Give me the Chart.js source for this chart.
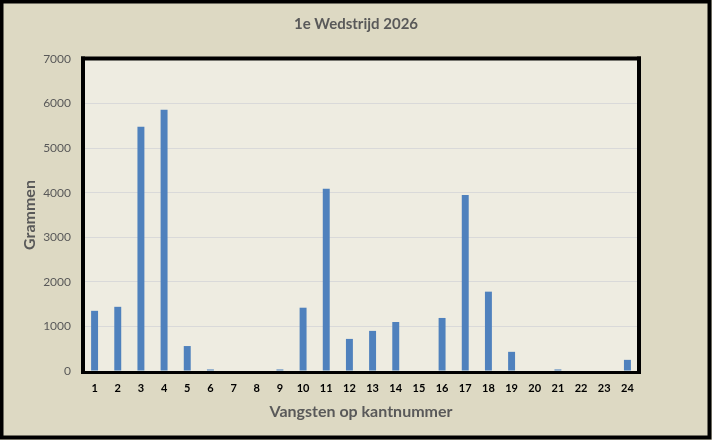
<!DOCTYPE html>
<html>
<head>
<meta charset="utf-8">
<script src="https://cdn.jsdelivr.net/npm/chart.js@4/dist/chart.umd.min.js"></script>
<style>
  html, body { margin: 0; padding: 0; background: #DDD9C3; }
  #wrap { width: 712px; height: 440px; position: relative; }
</style>
</head>
<body>
<div id="wrap"><canvas id="chart" width="712" height="440"></canvas></div>
<script>
// Data
const kantnummers = ['1','2','3','4','5','6','7','8','9','10','11','12','13','14','15','16','17','18','19','20','21','22','23','24'];
const grammen = [1350, 1440, 5480, 5860, 560, 35, 0, 0, 35, 1420, 4090, 720, 900, 1100, 0, 1190, 3950, 1780, 430, 0, 35, 0, 0, 250];
const yTicks = [0, 1000, 2000, 3000, 4000, 5000, 6000, 7000];

const FONT = "Lato, 'Open Sans', sans-serif";
const GREY = '#595959';

// Background, plot frame and outer border
const framePlugin = {
  id: 'frame',
  beforeDraw(chart) {
    const { ctx, chartArea: a } = chart;
    ctx.save();
    ctx.fillStyle = '#DDD9C3';
    ctx.fillRect(0, 0, chart.width, chart.height);
    ctx.fillStyle = '#EEECE1';
    ctx.fillRect(a.left, a.top, a.right - a.left, a.bottom - a.top);
    ctx.restore();
  },
  afterDraw(chart) {
    const { ctx, chartArea: a } = chart;
    ctx.save();
    ctx.fillStyle = '#000';
    // left, top, right sides of plot frame
    ctx.fillRect(a.left - 2, a.top - 2.5, 4, a.bottom - a.top + 5.5);
    ctx.fillRect(a.left - 2, a.top - 2.5, a.right - a.left + 4, 4);
    ctx.fillRect(a.right - 2, a.top - 2.5, 4, a.bottom - a.top + 5.5);
    // bottom side sits under the bars
    ctx.fillRect(a.left - 2, a.bottom, a.right - a.left + 4, 3);
    // outer border
    ctx.strokeStyle = '#000';
    ctx.lineWidth = 4;
    ctx.strokeRect(1.5, 1.5, chart.width - 4, chart.height - 4);
    ctx.restore();
  }
};

new Chart(document.getElementById('chart').getContext('2d'), {
  type: 'bar',
  data: {
    labels: kantnummers,
    datasets: [{
      data: grammen,
      backgroundColor: '#4F81BD',
      borderWidth: 0,
      barPercentage: 0.6,
      categoryPercentage: 0.5
    }]
  },
  options: {
    responsive: false,
    animation: false,
    devicePixelRatio: 1,
    layout: { padding: 0 },
    plugins: {
      legend: { display: false },
      tooltip: { enabled: false },
      title: {
        display: true,
        text: '1e Wedstrijd 2026',
        color: GREY,
        font: { family: FONT, size: 15, weight: 'bold' },
        padding: { top: 15, bottom: 26 }
      }
    },
    scales: {
      x: {
        grid: { display: false, drawTicks: false },
        border: { display: false },
        ticks: {
          color: '#000',
          padding: 11,
          maxRotation: 0,
          autoSkip: false,
          font: { family: FONT, size: 11, weight: 'bold' }
        },
        title: {
          display: true,
          text: 'Vangsten op kantnummer',
          color: GREY,
          padding: { top: 0, bottom: 19 },
          font: { family: FONT, size: 16, weight: 'bold' }
        },
        afterFit(scale) { scale.height = 69; }
      },
      y: {
        min: 0,
        max: 7000,
        afterBuildTicks(scale) { scale.ticks = yTicks.map(v => ({ value: v })); },
        grid: { color: '#D9D9D9', drawTicks: false },
        border: { display: false },
        ticks: {
          color: GREY,
          padding: 12,
          font: { family: FONT, size: 12 },
          callback: v => String(v)
        },
        title: {
          display: true,
          text: 'Grammen',
          color: GREY,
          padding: { top: 20, bottom: 0 },
          font: { family: FONT, size: 16, weight: 'bold' }
        },
        afterFit(scale) { scale.width = 83; }
      },
      // empty axis on the right only to keep the margin there
      yRight: {
        position: 'right',
        display: true,
        grid: { display: false, drawTicks: false },
        border: { display: false },
        ticks: { display: false },
        afterFit(scale) { scale.width = 73; }
      }
    }
  },
  plugins: [framePlugin]
});
</script>
</body>
</html>
